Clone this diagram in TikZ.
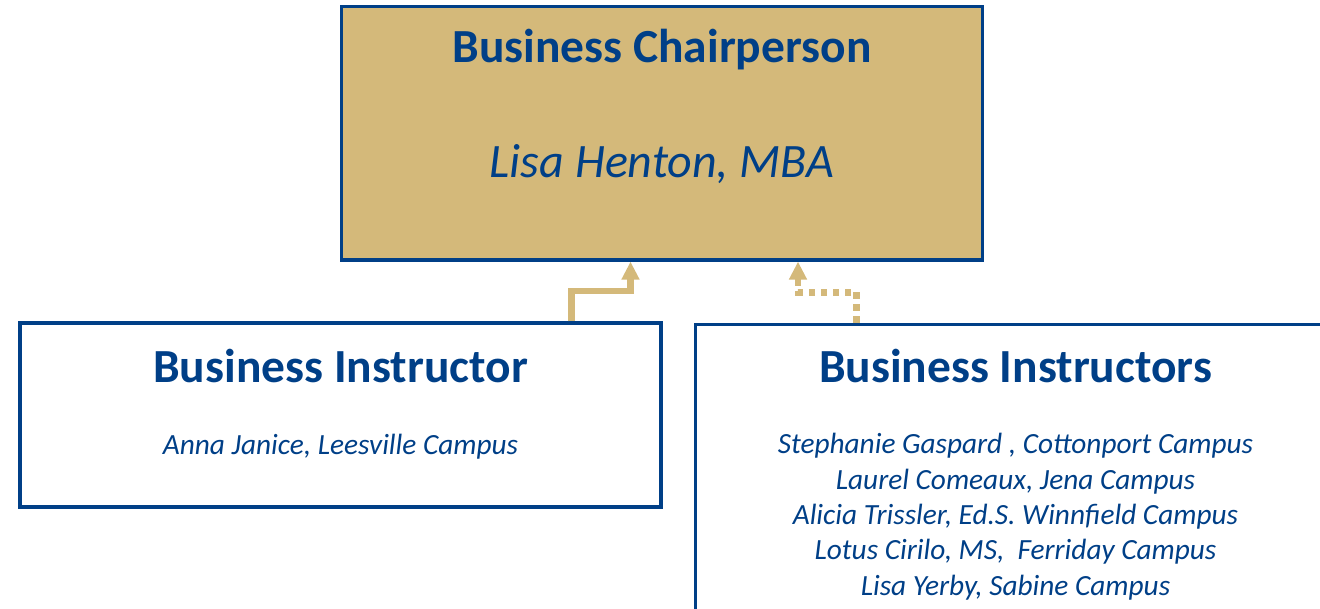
\documentclass[tikz,border=0pt]{standalone}
\usepackage{fontspec}
\setmainfont{Carlito}
\usetikzlibrary{arrows.meta}
\definecolor{navy}{RGB}{0,63,135}
\definecolor{gold}{RGB}{212,185,122}
\begin{document}
\begin{tikzpicture}[x=1pt,y=-1pt,
    box/.style={draw=navy,line width=3.3pt,minimum width=641pt,inner sep=0pt},
    head/.style={text=navy,font=\fontsize{47.5}{56}\selectfont\bfseries},
    who/.style={text=navy,font=\fontsize{29.3}{35.3}\selectfont\itshape,align=center},
    link/.style={draw=gold,line width=6.5pt,-{Triangle[length=18pt,width=17pt]}}]
    \clip (0,0) rectangle (1320,609);
    % boxes
    \node[box,fill=gold,minimum height=253.5pt] (chair) at (662.2,133.2) {};
    \node[box,minimum height=184pt] (inst) at (340.5,415) {};
    \node[box,minimum height=330pt,anchor=north west] (insts) at (694,323) {};
    % texts
    \node[head] (chairT) at (662,50) {Business Chairperson};
    \node[who,font=\fontsize{48}{56}\selectfont\itshape] (chairN) at (662,164) {Lisa Henton, MBA};
    \node[head] (instT) at (340.5,366) {Business Instructor};
    \node[who] (instN) at (340.5,447) {Anna Janice, Leesville Campus};
    \node[head] (instsT) at (1015.5,366) {Business Instructors};
    \node[who,anchor=north] (instsN) at (1015.5,430) {Stephanie Gaspard , Cottonport Campus\\
        Laurel Comeaux, Jena Campus\\
        Alicia Trissler, Ed.S. Winnfield Campus\\
        Lotus Cirilo, MS,~ Ferriday Campus\\
        Lisa Yerby, Sabine Campus};
    % links
    \draw[link] ([xshift=231.2pt]inst.north) -- ++(0,-30.5) -| ([xshift=-31.7pt]chair.south);
    \draw[link,dash pattern=on 6.5pt off 5.5pt] ([xshift=-159.5pt]insts.north) -- ++(0,-30.5) -| ([xshift=135.8pt]chair.south);
\end{tikzpicture}
\end{document}
